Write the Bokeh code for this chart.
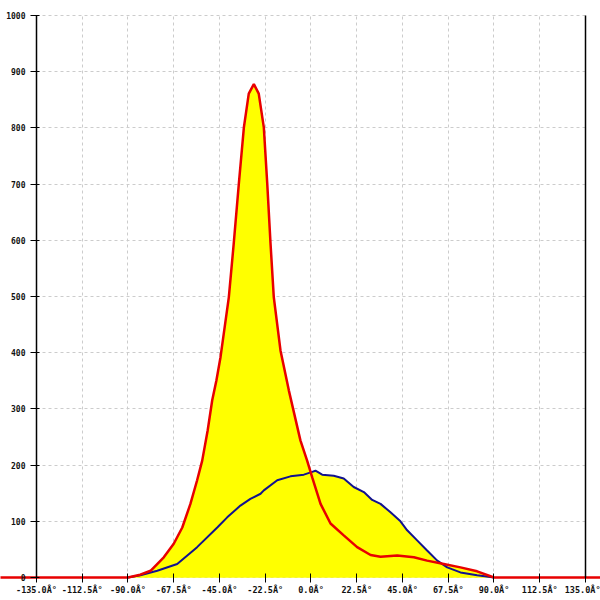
from bokeh.plotting import figure
from bokeh.models import LinearAxis, FixedTicker, Range1d, Grid
from bokeh.embed import file_html
from bokeh.resources import INLINE

# ---- data ----
red_angle = [-180, -135, -90, -84, -78.9, -72.4, -67.5, -63.3, -59.3, -56, -53.5, -50.8,
             -48.6, -46.5, -44.5, -40.4, -38, -35.5, -33, -30.6, -28.1, -25.7, -23.2,
             -21.5, -19.9, -18.3, -15, -10.9, -5.2, -1.9, 0.6, 4.7, 9.6, 16.1, 22.7,
             29.3, 34.2, 42.4, 50.6, 57.1, 65.3, 73.5, 81.7, 90, 135, 180]
red_value = [0, 0, 0, 5, 12, 36, 60, 89, 131, 173, 208, 262,
             315, 351, 392, 499, 594, 700, 801, 861, 878, 861, 801,
             700, 594, 499, 404, 333, 244, 208, 178, 131, 96, 75, 54,
             40, 37, 39, 36, 30, 24, 18, 11, 0, 0, 0]

blue_angle = [-90, -83.9, -75.6, -65.8, -56, -46.1, -41.2, -34.7, -29.8, -24.8, -23.2,
              -16.6, -10.1, -3.5, 0.6, 2.2, 5.5, 11.2, 16.1, 21, 26, 30.1, 34.2, 39.1,
              44, 47.3, 52.2, 57.1, 62.1, 67, 73.5, 81.7, 90]
blue_value = [0, 4, 12, 24, 54, 89, 107, 128, 140, 149, 155,
              173, 180, 183, 188, 190, 183, 181, 176, 161, 152, 138, 131, 116,
              100, 84, 66, 48, 30, 18, 9, 4, 0]

x_ticks = [-135.0, -112.5, -90.0, -67.5, -45.0, -22.5, 0.0, 22.5, 45.0, 67.5, 90.0, 112.5, 135.0]
x_tick_labels = ["-135.0Â°", "-112.5Â°", "-90.0Â°", "-67.5Â°", "-45.0Â°", "-22.5Â°", "0.0Â°",
                 "22.5Â°", "45.0Â°", "67.5Â°", "90.0Â°", "112.5Â°", "135.0Â°"]
y_ticks = [0, 100, 200, 300, 400, 500, 600, 700, 800, 900, 1000]

# ---- figure ----
p = figure(width=600, height=600, output_backend="svg", toolbar_location=None,
           x_range=Range1d(-152.70, 142.38), y_range=Range1d(-40.93, 1026.69),
           min_border=0)
p.below = []
p.left = []
p.center = []
p.outline_line_color = None
p.background_fill_color = "white"
p.border_fill_color = "white"

xt = FixedTicker(ticks=x_ticks, minor_ticks=[])
yt = FixedTicker(ticks=y_ticks, minor_ticks=[])

xg = Grid(dimension=0, ticker=xt, grid_line_color="#cccccc", grid_line_dash="3 3", bounds=(-135, 135))
yg = Grid(dimension=1, ticker=yt, grid_line_color="#cccccc", grid_line_dash="3 3", bounds=(0, 1000))
if hasattr(xg, "cross_bounds"):
    xg.cross_bounds = (0, 1000)
    yg.cross_bounds = (-135, 135)
p.add_layout(xg, "center")
p.add_layout(yg, "center")

# fills
p.varea(x=red_angle, y1=0, y2=red_value, fill_color="#ffff00")
p.varea(x=blue_angle, y1=0, y2=blue_value, fill_color="#ffff00")
# lines
p.line(blue_angle, blue_value, line_color="#12128f", line_width=2)
p.line(red_angle, red_value, line_color="#e80000", line_width=2.5)

font = "DejaVu Sans Mono"
xa = LinearAxis(ticker=xt, fixed_location=0, bounds=(-135, 135),
                major_label_overrides=dict(zip(x_ticks, x_tick_labels)),
                axis_line_color=None, major_tick_in=4, major_tick_out=5,
                major_tick_line_color="black", minor_tick_line_color=None,
                major_label_standoff=3, major_label_text_font=font,
                major_label_text_font_size="8.5px", major_label_text_font_style="bold",
                major_label_text_color="#111111")
p.add_layout(xa, "below")

ya = LinearAxis(ticker=yt, fixed_location=-135, bounds=(0, 1000),
                axis_line_color="black", axis_line_width=1.5, major_tick_in=3, major_tick_out=6,
                major_tick_line_color="black", minor_tick_line_color=None,
                major_label_standoff=5, major_label_text_font=font,
                major_label_text_font_size="8px", major_label_text_font_style="bold",
                major_label_text_color="#111111")
p.add_layout(ya, "left")

ra = LinearAxis(ticker=yt, fixed_location=135, bounds=(0, 1000),
                axis_line_color="black", axis_line_width=1.5, major_tick_line_color=None,
                minor_tick_line_color=None, major_label_text_alpha=0,
                major_label_text_font_size="1px")
p.add_layout(ra, "right")

open("out.html", "w").write(file_html(p, INLINE))
